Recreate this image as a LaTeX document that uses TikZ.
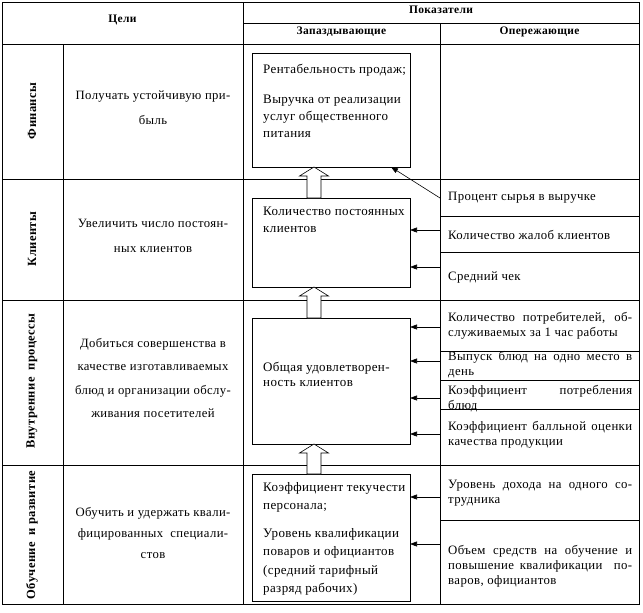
\documentclass[tikz,border=0pt]{standalone}
\usepackage{fontspec}
\setmainfont{Liberation Serif}[LetterSpace=3]
\usetikzlibrary{arrows.meta}
\begin{document}
\begin{tikzpicture}[x=1pt,y=-1pt,
  tl/.style={line width=0.8pt},
  ibox/.style={draw, line width=0.8pt, anchor=north west, inner sep=0pt, outer sep=0pt, minimum width=158pt},
  ptr/.style={-{Triangle[length=7pt,width=5pt]}, line width=0.6pt},
  blk/.style={draw, fill=white, line width=0.6pt},
  hd/.style={font=\bfseries\fontsize{11.5}{14}\selectfont, inner sep=0pt},
  lab/.style={rotate=90, font=\bfseries\fontsize{12.5}{14}\selectfont, inner sep=0pt},
  goal/.style={align=center, inner sep=0pt, font=\fontsize{12.7}{25}\selectfont},
  bt/.style={align=left, anchor=west, inner sep=0pt, font=\fontsize{13}{17}\selectfont},
  rt/.style={align=left, anchor=west, inner sep=0pt, font=\fontsize{12.8}{15}\selectfont}
]
\useasboundingbox (0,0) rectangle (643,613);
% table grid
\draw[tl] (2,2) rectangle (639,604);
\draw[tl] (243,2) -- (243,604);
\draw[tl] (63,44) -- (63,604);
\draw[tl] (440,23) -- (440,604);
\draw[tl] (243,23) -- (639,23);
\foreach \yy in {44,179,300,465} \draw[tl] (2,\yy) -- (639,\yy);
\foreach \yy in {216,252,351,380,409,520} \draw[tl] (440,\yy) -- (639,\yy);
% header
\node[hd] (hgoal) at (122.5,20) {Цели};
\node[hd] (hind) at (441,10) {Показатели};
\node[hd] (hlag) at (341.5,32) {Запаздывающие};
\node[hd] (hlead) at (539.5,32) {Опережающие};
% perspectives
\node[lab] (l1) at (32,111) {Финансы};
\node[lab] (l2) at (32,239) {Клиенты};
\node[lab] (l3) at (32,381) {Внутренние\ \ процессы};
\node[lab] (l4) at (32,535) {Обучение\ \ и развитие};
% goals
\node[goal] (g1) at (153,108) {Получать устойчивую при-\\быль};
\node[goal] (g2) at (153,236) {Увеличить число постоян-\\ных клиентов};
\node[goal, font=\fontsize{12.7}{23.3}\selectfont] (g3) at (153,378) {Добиться совершенства в\\качестве изготавливаемых\\блюд и организации обслу-\\живания посетителей};
\node[goal, font=\fontsize{12.7}{21}\selectfont] (g4) at (153,533) {Обучить и удержать квали-\\фицированных\ \ специали-\\стов};
% lagging boxes
\node[ibox, minimum height=114pt] (fin) at (252,53) {};
\node[ibox, minimum height=89pt] (cli) at (252,198) {};
\node[ibox, minimum height=126pt] (int) at (252,318) {};
\node[ibox, minimum height=127pt] (lrn) at (252,474) {};
\node[bt] (t1) at (263,100.5) {Рентабельность продаж;\\[13pt]Выручка от реализации\\услуг общественного\\питания};
\node[bt] (t2) at (263,220) {Количество постоянных\\клиентов};
\node[bt, font=\fontsize{13}{15}\selectfont] (t3) at (263,374.5) {Общая удовлетворен-\\ность клиентов};
\node[bt, font=\fontsize{13}{18.5}\selectfont] (t4) at (263,539) {Коэффициент текучести\\персонала;\\[9pt]Уровень квалификации\\поваров и официантов\\(средний тарифный\\разряд рабочих)};
% block arrows
\coordinate (ax) at (314,0);
\path (ax |- cli.north) coordinate (b1);
\path (ax |- int.north) coordinate (b2);
\path (ax |- lrn.north) coordinate (b3);
\draw[blk] (b1) ++(-7,0) -- ++(0,-22) -- ++(-7.5,0) -- ++(14.5,-9) -- ++(14.5,9) -- ++(-7.5,0) -- ++(0,22) -- cycle;
\draw[blk] (b2) ++(-7,0) -- ++(0,-22) -- ++(-7.5,0) -- ++(14.5,-9) -- ++(14.5,9) -- ++(-7.5,0) -- ++(0,22) -- cycle;
\draw[blk] (b3) ++(-7,0) -- ++(0,-21) -- ++(-7.5,0) -- ++(14.5,-9) -- ++(14.5,9) -- ++(-7.5,0) -- ++(0,21) -- cycle;
% leading indicators
\node[rt] (r1) at (448,198) {Процент сырья в выручке};
\node[rt] (r2) at (448,235) {Количество жалоб клиентов};
\node[rt] (r3) at (448,277) {Средний чек};
\node[rt] (r4) at (448,326) {\makebox[184pt][s]{Количество потребителей, об-}\\служиваемых за 1 час работы};
\node[rt] (r5) at (448,365) {\makebox[184pt][s]{Выпуск блюд на одно место в}\\день};
\node[rt] (r6) at (448,398.5) {\makebox[184pt][s]{Коэффициент потребления}\\блюд};
\node[rt] (r7) at (448,434.5) {\makebox[184pt][s]{Коэффициент балльной оценки}\\качества продукции};
\node[rt] (r8) at (448,493) {\makebox[184pt][s]{Уровень дохода на одного со-}\\трудника};
\node[rt] (r9) at (448,566) {\makebox[184pt][s]{Объем средств на обучение и}\\\makebox[184pt][s]{повышение квалификации\ \ по-}\\варов, официантов};
% connectors
\coordinate (p0) at (440,198);
\coordinate (q0) at (391,167);
\draw[ptr] (p0) -- (q0);
\foreach \yy/\nn in {230/cli,267/cli,327/int,361/int,398/int,434/int,497/lrn,544/lrn}{
  \coordinate (pp) at (440,\yy);
  \draw[ptr] (pp) -- (pp -| \nn.east);
}
\end{tikzpicture}
\end{document}
